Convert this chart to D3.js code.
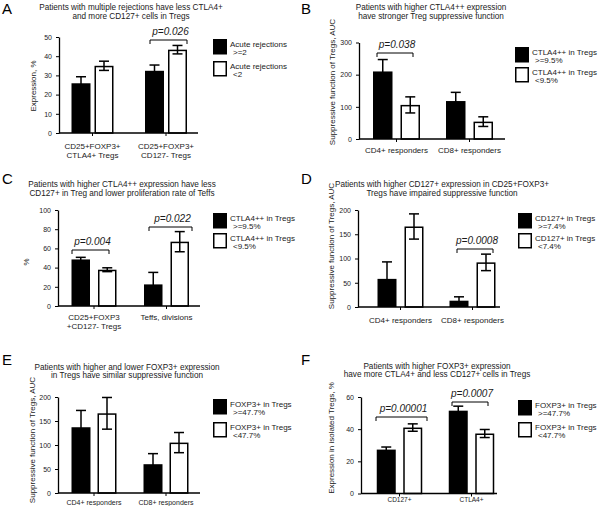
<!DOCTYPE html>
<html><head><meta charset="utf-8">
<script src="https://cdn.jsdelivr.net/npm/d3@7"></script>
<style>
html,body{margin:0;padding:0;background:#fff;}
svg{display:block;font-family:"Liberation Sans",Arial,sans-serif;}
</style></head>
<body><svg id="chart" width="600" height="506"></svg>
<script>
// ---------- DATA ----------
const panelLetters = ["A","B","C","D","E","F"];
const titles = [
  ["Patients with multiple rejections have less CTLA4+", "and more CD127+ cells in Tregs"],
  ["Patients with higher CTLA4++ expression", "have stronger Treg suppressive function"],
  ["Patients with higher CTLA4++ expression have less", "CD127+ in Treg and lower proliferation rate of Teffs"],
  ["Patients with higher CD127+ expression in CD25+FOXP3+", "Tregs have impaired suppressive function"],
  ["Patients with higher and lower FOXP3+ expression", "in Tregs have similar suppressive function"],
  ["Patients with higher  FOXP3+ expression", "have more CTLA4+ and less CD127+ cells in Tregs"]
];
const yTitles = ["Expression, %", "Suppressive function of Tregs, AUC", "%",
  "Suppressive function of Tregs, AUC", "Suppressive function of Tregs, AUC", "Expression in isolated Tregs, %"];
const categories = [
  [["CD25+FOXP3+","CTLA4+ Tregs"], ["CD25+FOXP3+","CD127- Tregs"]],
  [["CD4+ responders"], ["CD8+ responders"]],
  [["CD25+FOXP3","+CD127- Tregs"], ["Teffs, divisions"]],
  [["CD4+ responders"], ["CD8+ responders"]],
  [["CD4+ responders"], ["CD8+ responders"]],
  [["CD127+"], ["CTLA4+"]]
];
const yTicks = [
  [0,10,20,30,40,50], [0,100,200,300], [0,20,40,60,80,100],
  [0,50,100,150,200], [0,50,100,150,200], [0,20,40,60]
];
// series "high" (black bars) and "low" (white bars): mean and SEM per category
const highMeans = [[25.9,32.4],[210,118],[48.5,22.5],[58,13],[137,60],[27.3,51.5]];
const highErrs  = [[3.4,3.0],[37,27],[2.2,12.5],[35,8],[35,22],[1.6,2.8]];
const lowMeans  = [[35.0,43.4],[106,54],[37.8,67],[166,92],[166,105],[41,37.3]];
const lowErrs   = [[2.4,2.2],[25,15],[2.0,10.5],[26,17],[33,21],[2.3,2.5]];
const legendLabels = [
  [["Acute rejections",">=2"],["Acute rejections","<2"]],
  [["CTLA4++ in Tregs",">=9.5%"],["CTLA4++ in Tregs","<9.5%"]],
  [["CTLA4++ in Tregs",">=9.5%"],["CTLA4++ in Tregs","<9.5%"]],
  [["CD127+ in Tregs",">=7.4%"],["CD127+ in Tregs","<7.4%"]],
  [["FOXP3+ in Tregs",">=47.7%"],["FOXP3+ in Tregs","<47.7%"]],
  [["FOXP3+ in Tregs",">=47.7%"],["FOXP3+ in Tregs","<47.7%"]]
];
const pCategory = [[1],[0],[0,1],[1],[],[0,1]];
const pTexts = [["p=0.026"],["p=0.038"],["p=0.004","p=0.022"],["p=0.0008"],[],["p=0.00001","p=0.0007"]];

// ---------- LAYOUT ----------
const layouts = [
  {lx:2, ly:14, tx:131, ty:[9.5,18.5], axX:59, axX1:198, y0:133, y1:37, range:[55.75,202.75], barW:19, gap:4,
   xlY:[148.5,158], xlS:8, ytX:35.5, ytY:86, legX:213, legY:[39,61], br:[[-16,21,40]]},
  {lx:301, ly:14, tx:431, ty:[9.5,18.5], axX:359, axX1:505, y0:139, y1:42.5, range:[360,506], barW:19.5, gap:8,
   xlY:[153], xlS:8, ytX:335, ytY:82, legX:515, legY:[47,67], br:[[-19.5,16.5,53]]},
  {lx:2, ly:184, tx:122, ty:[187,196], axX:58, axX1:200, y0:306, y1:210, range:[57.75,202.75], barW:18.5, gap:8,
   xlY:[320,329], xlS:8, ytX:29, ytY:262, legX:213, legY:[213,233], br:[[-22,15,250],[-17.5,25.5,227]]},
  {lx:301, ly:184, tx:442, ty:[187,196], axX:358, axX1:500, y0:307, y1:210, range:[364.5,508.5], barW:19, gap:8,
   xlY:[323], xlS:8, ytX:334, ytY:246, legX:518, legY:[213,233], br:[[-15.5,20.5,249]]},
  {lx:2, ly:365, tx:127, ty:[369.5,377.5], axX:58, axX1:200, y0:493, y1:397, range:[58,202], barW:19, gap:7,
   xlY:[505], xlS:7, ytX:35, ytY:440, legX:213, legY:[399,422], br:[]},
  {lx:301, ly:365, tx:437, ty:[369,377], axX:361, axX1:497, y0:493.5, y1:397, range:[363.5,507.5], barW:19, gap:7.5,
   xlY:[502], xlS:6.5, ytX:334, ytY:438, legX:518, legY:[400,422], br:[[-23.5,27.5,417],[-19.5,16.5,402]]}
];

const svg = d3.select("#chart");
svg.append("rect").attr("width",600).attr("height",506).attr("fill","#fff");
const TXT = "#1a1a1a";

layouts.forEach((L, i) => {
  const g = svg.append("g");
  const y = d3.scaleLinear().domain([0, d3.max(yTicks[i])]).range([L.y0, L.y1]);
  const x = d3.scaleBand().domain([0,1]).range(L.range);
  const half = L.barW + L.gap/2;
  const xs = d3.scaleBand().domain(["hi","lo"]).range([-half, half]).paddingInner(L.gap/(L.barW+L.gap)).paddingOuter(0);
  const cx = c => x(c) + x.bandwidth()/2;

  // letter
  g.append("text").attr("x", L.lx).attr("y", L.ly).attr("font-size", 15).attr("fill","#000").text(panelLetters[i]);
  // title
  titles[i].forEach((t, k) => g.append("text").attr("x", L.tx).attr("y", L.ty[k]).attr("text-anchor","middle")
    .attr("font-size", 8.2).attr("fill", TXT).text(t));

  // y axis
  const ya = g.append("g").attr("transform", `translate(${L.axX},0)`)
    .call(d3.axisLeft(y).tickValues(yTicks[i]).tickSize(3).tickSizeOuter(0).tickPadding(4).tickFormat(d3.format("d")));
  ya.select(".domain").attr("stroke","#000").attr("stroke-width",1.3);
  ya.selectAll(".tick line").attr("stroke","#000").attr("stroke-width",1);
  ya.selectAll(".tick text").attr("font-size",7).attr("fill",TXT).attr("font-family","Liberation Sans, Arial, sans-serif");

  // y title
  g.append("text").attr("transform", `translate(${L.ytX},${L.ytY}) rotate(-90)`).attr("text-anchor","middle")
    .attr("font-size", 8).attr("fill", TXT).text(yTitles[i]);

  // bars
  const series = [
    {key:"hi", means: highMeans[i], errs: highErrs[i]},
    {key:"lo", means: lowMeans[i], errs: lowErrs[i]}
  ];
  series.forEach(s => {
    s.means.forEach((v, c) => {
      const bx = cx(c) + xs(s.key);
      const bw = xs.bandwidth();
      if (s.key === "hi") {
        g.append("rect").attr("x", bx).attr("y", y(v)).attr("width", bw).attr("height", y(0) - y(v)).attr("fill","#000");
      } else {
        g.append("rect").attr("x", bx+0.75).attr("y", y(v)+0.75).attr("width", bw-1.5).attr("height", y(0)-y(v)-0.75)
          .attr("fill","#fff").attr("stroke","#000").attr("stroke-width",1.5);
      }
      const mx = bx + bw/2, e = s.errs[c];
      const lo = y(Math.max(0, v - e)), hi = y(v + e);
      const eg = g.append("g").attr("stroke","#000").attr("stroke-width",1.5).attr("fill","none");
      eg.append("line").attr("x1",mx).attr("x2",mx).attr("y1",hi).attr("y2",lo);
      eg.append("line").attr("x1",mx-5).attr("x2",mx+5).attr("y1",hi).attr("y2",hi);
      eg.append("line").attr("x1",mx-5).attr("x2",mx+5).attr("y1",lo).attr("y2",lo);
    });
  });

  // x axis
  const xa = g.append("g").attr("transform", `translate(0,${L.y0})`)
    .call(d3.axisBottom(x).tickSize(3).tickSizeOuter(0).tickFormat(""));
  xa.select(".domain").remove();
  xa.selectAll(".tick line").attr("stroke","#000").attr("stroke-width",1);
  g.append("line").attr("x1", L.axX).attr("x2", L.axX1).attr("y1", L.y0).attr("y2", L.y0)
    .attr("stroke","#000").attr("stroke-width",1.3);

  // x labels
  categories[i].forEach((lines, c) => {
    lines.forEach((t, k) => g.append("text").attr("x", cx(c)).attr("y", L.xlY[k]).attr("text-anchor","middle")
      .attr("font-size", L.xlS).attr("fill", TXT).text(t));
  });

  // p-value brackets
  pCategory[i].forEach((c, k) => {
    const [d0, d1, yb] = L.br[k];
    const x0 = cx(c) + d0, x1 = cx(c) + d1;
    g.append("path").attr("d", `M${x0},${yb+4}V${yb}H${x1}V${yb+4}`).attr("fill","none")
      .attr("stroke","#000").attr("stroke-width",1);
    g.append("text").attr("x", (x0+x1)/2 + 2).attr("y", yb - 5.5).attr("text-anchor","middle")
      .attr("font-size", 10).attr("font-style","italic").attr("fill", TXT).text(pTexts[i][k]);
  });

  // legend
  legendLabels[i].forEach((lab, k) => {
    const top = L.legY[k];
    g.append("rect").attr("x", L.legX+0.75).attr("y", top+0.75).attr("width", 12.5).attr("height", 14)
      .attr("fill", k===0 ? "#000" : "#fff").attr("stroke","#000").attr("stroke-width",1.5);
    lab.forEach((t, m) => g.append("text").attr("x", L.legX + 17 + m*3).attr("y", top + 7.5 + m*8.5)
      .attr("font-size", 8).attr("fill", TXT).text(t));
  });
});
</script>
</body></html>
